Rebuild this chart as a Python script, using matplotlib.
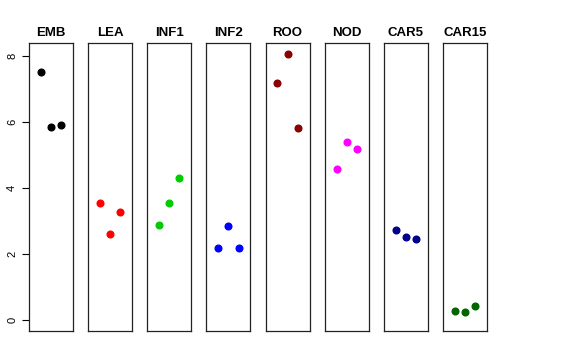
import matplotlib
matplotlib.use("Agg")
import matplotlib.pyplot as plt

tissues = ["EMB", "LEA", "INF1", "INF2", "ROO", "NOD", "CAR5", "CAR15"]
colors = ["black", "red", "#00CD00", "blue", "#8B0000", "magenta", "#00008B", "#006400"]
reps = [1, 2, 3]
values = [
    [7.50, 5.85, 5.91],
    [3.56, 2.62, 3.27],
    [2.90, 3.56, 4.32],
    [2.20, 2.85, 2.19],
    [7.18, 8.07, 5.83],
    [4.57, 5.41, 5.17],
    [2.73, 2.51, 2.46],
    [0.29, 0.26, 0.43],
]

plt.rcParams["font.family"] = ["Liberation Sans", "DejaVu Sans"]
fig = plt.figure(figsize=(5.76, 3.6), dpi=100)

left0 = 29 / 576
step = 59.14 / 576
w = 44 / 576
for i, name in enumerate(tissues):
    ax = fig.add_axes([left0 + i * step, 29 / 360, w, 288 / 360])
    ax.plot(reps, values[i], "o", color=colors[i], markersize=4.8, linestyle="none")
    ax.set_xlim(-0.16, 4.16)
    ax.set_ylim(-0.32, 8.39)
    ax.set_xticks([])
    ax.set_title(name, fontsize=9.5, fontweight="bold", pad=5)
    for s in ax.spines.values():
        s.set_linewidth(0.9)
        s.set_color("#222222")
    if i == 0:
        ax.set_yticks([0, 2, 4, 6, 8])
        ax.tick_params(axis="y", length=5, labelsize=8, width=0.8)
        for lab in ax.get_yticklabels():
            lab.set_rotation(90)
            lab.set_va("center")
    else:
        ax.set_yticks([])

fig.savefig("out.png", dpi=100)
